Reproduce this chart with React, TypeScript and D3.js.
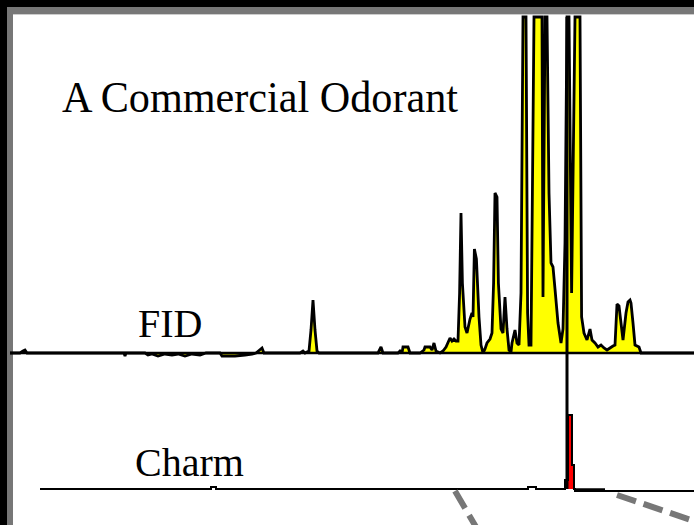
import React, { useEffect, useRef } from 'react';
import * as d3 from 'd3';

// retention time (min) and detector signal
const fidTrace: [number, number][] = [
  [0, 0], [0.5, 0], [0.65, 1], [0.75, 1.5], [0.85, 0], [2.5, 0], [5.7, 0], [5.75, -1.5], [5.8, 0],
  [6.75, 0], [6.9, -1], [7.1, -0.5], [7.4, -1.5], [7.75, -0.5], [8.1, -1], [8.4, -0.5], [8.75, -1.5],
  [9.1, -0.5], [9.5, -1], [9.8, 0], [10.5, 0], [10.6, -1.5], [11.25, -1.5], [11.75, -1], [12.1, -0.5],
  [12.3, 0], [12.6, 2.5], [12.7, 0], [14.5, 0], [14.65, 1], [14.75, 0], [14.95, 1], [15.05, 11.5],
  [15.15, 26.5], [15.25, 11.5], [15.35, 1], [15.45, 0], [18.4, 0], [18.55, 3], [18.65, 0], [19.4, 0],
  [19.5, 1], [19.6, 0], [19.65, 3], [19.9, 3], [20.0, 0], [20.5, 0], [20.7, 1.5], [20.75, 3], [21.0, 3],
  [21.1, 1.5], [21.2, 5], [21.3, 1], [21.5, 0], [21.65, 1], [21.8, 3], [22.0, 7.5], [22.1, 6], [22.2, 7],
  [22.3, 6], [22.4, 6], [22.48, 30], [22.55, 70], [22.62, 35], [22.75, 13], [22.85, 10], [23.0, 17],
  [23.1, 20], [23.15, 18], [23.22, 52], [23.32, 47], [23.45, 18], [23.55, 4], [23.65, 0],
  [23.75, 2], [23.85, 5], [24.0, 7], [24.1, 10], [24.18, 35], [24.25, 80], [24.35, 78],
  [24.42, 35], [24.55, 12], [24.65, 10], [24.75, 28], [24.85, 12], [24.95, 1.5], [25.05, 0.5],
  [25.1, 5], [25.25, 11.5], [25.35, 5], [25.45, 4], [25.55, 30], [25.65, 210], [25.8, 210],
  [25.88, 20], [25.95, 4], [26.05, 4], [26.12, 80], [26.2, 240], [26.6, 240], [26.65, 28],
  [26.75, 225], [26.85, 225], [26.95, 80], [27.05, 45], [27.15, 43], [27.25, 32], [27.4, 15],
  [27.55, 5], [27.65, 12], [27.75, 55], [27.85, 230], [27.95, 230], [28.08, 30], [28.25, 260],
  [28.5, 260], [28.58, 18], [28.7, 10], [28.85, 6.5], [29.0, 12], [29.1, 6.5], [29.25, 5], [29.4, 3],
  [29.55, 4], [29.7, 2.5], [29.85, 1.5], [30.0, 2.5], [30.15, 3.5], [30.25, 4], [30.35, 24.5],
  [30.45, 23.5], [30.55, 15], [30.65, 6.5], [30.8, 20], [30.9, 25.5], [31.0, 26.5], [31.05, 25],
  [31.15, 15], [31.25, 4], [31.45, 3], [31.55, 0], [34.2, 0]
];

// olfactometry (Charm) response
const charmTrace: [number, number][] = [
  [1.5, 0], [10.05, 0], [10.05, 1], [10.3, 1], [10.3, 0], [25.9, 0], [25.9, 1], [26.3, 1], [26.3, 0],
  [27.75, 0], [27.75, 4.5], [27.9, 4.5], [27.9, 37], [28.1, 37], [28.1, 12], [28.2, 12], [28.2, 0],
  [28.25, 0], [28.25, -1], [34.2, -1]
];
const charmPeak = [27.75, 28.2];
const charmFlat = [28.25, 29.75];
const peakMarker = 27.85;

// dashed callout towards the expanded view below
const callouts = [
  { from: [22.25, -1], to: [23.3, -19] },
  { from: [30.35, -3], to: [34.2, -16] }
];

const title = 'A Commercial Odorant';
const traceLabels = ['FID', 'Charm'];

const FID_TOP = 168;

const App = () => {
  const chartRef = useRef<SVGSVGElement | null>(null);

  useEffect(() => {
    if (!chartRef.current) return;
    const svg = d3.select(chartRef.current);
    svg.selectAll('*').remove();

    const width = 694;
    const height = 525;

    const x = d3.scaleLinear().domain([0, 34.2]).range([10, 694]);
    const fidY = d3.scaleLinear().domain([0, FID_TOP]).range([353, 17]);
    const charmY = d3.scaleLinear().domain([0, 50]).range([489, 389]);

    // frame
    svg.append('rect').attr('width', width).attr('height', height).attr('fill', '#fff');
    svg.append('rect').attr('x', 0).attr('y', 0).attr('width', width).attr('height', 14).attr('fill', '#777');
    svg.append('rect').attr('x', 0).attr('y', 0).attr('width', 13).attr('height', height).attr('fill', '#777');
    svg.append('rect').attr('x', 0).attr('y', 0).attr('width', width).attr('height', 7).attr('fill', '#000');
    svg.append('rect').attr('x', 0).attr('y', 0).attr('width', 7).attr('height', height).attr('fill', '#000');
    svg.append('line')
      .attr('x1', 13).attr('x2', width).attr('y1', 14.5).attr('y2', 14.5)
      .attr('stroke', '#ccc').attr('stroke-width', 1);

    const fv = (v: number) => fidY(Math.min(v, FID_TOP));

    // FID trace
    const fidArea = d3.area<[number, number]>()
      .x(d => x(d[0]))
      .y0(fidY(0))
      .y1(d => fv(d[1]));
    const fidLine = d3.line<[number, number]>()
      .x(d => x(d[0]))
      .y(d => fv(d[1]));

    svg.append('path')
      .datum(fidTrace)
      .attr('d', fidArea)
      .attr('fill', '#ffff00');

    svg.append('line')
      .attr('x1', x(0)).attr('x2', x(34.2))
      .attr('y1', fidY(0)).attr('y2', fidY(0))
      .attr('stroke', '#000').attr('stroke-width', 2.5);

    svg.append('path')
      .datum(fidTrace)
      .attr('d', fidLine)
      .attr('fill', 'none')
      .attr('stroke', '#000')
      .attr('stroke-width', 2.8)
      .attr('stroke-linejoin', 'miter')
      .attr('stroke-miterlimit', 2);

    // Charm trace
    const charmArea = d3.area<[number, number]>()
      .x(d => x(d[0]))
      .y0(charmY(0))
      .y1(d => charmY(d[1]));
    svg.append('path')
      .datum(charmTrace.filter(d => d[0] >= charmPeak[0] && d[0] <= charmPeak[1]))
      .attr('d', charmArea)
      .attr('fill', '#ff0000');

    svg.append('path')
      .datum(charmTrace)
      .attr('d', d3.line<[number, number]>().x(d => x(d[0])).y(d => charmY(d[1])))
      .attr('fill', 'none')
      .attr('stroke', '#000')
      .attr('stroke-width', 2);

    svg.append('line')
      .attr('x1', x(charmFlat[0])).attr('x2', x(charmFlat[1]))
      .attr('y1', charmY(-0.5)).attr('y2', charmY(-0.5))
      .attr('stroke', '#000').attr('stroke-width', 3.5);

    // line joining the odour-active peak to the FID trace
    svg.append('line')
      .attr('x1', x(peakMarker)).attr('x2', x(peakMarker))
      .attr('y1', fidY(FID_TOP)).attr('y2', charmY(0))
      .attr('stroke', '#000').attr('stroke-width', 3);

    // callouts
    callouts.forEach(c => {
      svg.append('line')
        .attr('x1', x(c.from[0])).attr('y1', charmY(c.from[1]))
        .attr('x2', x(c.to[0])).attr('y2', charmY(c.to[1]))
        .attr('stroke', '#777')
        .attr('stroke-width', 6)
        .attr('stroke-dasharray', '20 8');
    });

    // text
    const font = '"Times New Roman", "Liberation Serif", Times, serif';
    svg.append('text')
      .attr('x', 62).attr('y', 112)
      .attr('textLength', 396)
      .attr('lengthAdjust', 'spacingAndGlyphs')
      .style('font-family', font)
      .style('font-size', '45px')
      .attr('fill', '#000')
      .text(title);
    svg.append('text')
      .attr('x', 138).attr('y', 337)
      .style('font-family', font)
      .style('font-size', '40px')
      .attr('fill', '#000')
      .text(traceLabels[0]);
    svg.append('text')
      .attr('x', 135).attr('y', 476)
      .style('font-family', font)
      .style('font-size', '40px')
      .attr('fill', '#000')
      .text(traceLabels[1]);
  }, []);

  return (
    <svg
      ref={chartRef}
      width={694}
      height={525}
      style={{ position: 'absolute', left: 0, top: 0, display: 'block' }}
    />
  );
};

export default App;
